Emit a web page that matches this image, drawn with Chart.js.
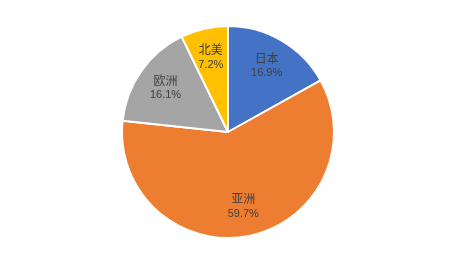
<!DOCTYPE html>
<html>
<head>
<meta charset="utf-8">
<script src="https://cdn.jsdelivr.net/npm/chart.js@4"></script>
<style>
  html, body { margin: 0; padding: 0; background: #fff; }
  #wrap { width: 458px; height: 268px; }
</style>
</head>
<body>
<div id="wrap"><canvas id="pie" width="458" height="268"></canvas></div>
<script>
const regions = ["日本", "亚洲", "欧洲", "北美"];
const shares = [16.9, 59.7, 16.1, 7.2];
const sliceColors = ["#4472C4", "#ED7D31", "#A5A5A5", "#FFC000"];

// labels drawn inside each slice, category above percentage
const sliceLabels = {
  id: "sliceLabels",
  afterDatasetsDraw(chart) {
    const ctx = chart.ctx;
    const meta = chart.getDatasetMeta(0);
    ctx.save();
    ctx.fillStyle = "#404040";
    ctx.textAlign = "center";
    ctx.textBaseline = "middle";
    meta.data.forEach((arc, i) => {
      const p = arc.getProps(["x", "y", "startAngle", "endAngle", "outerRadius"], true);
      const mid = (p.startAngle + p.endAngle) / 2;
      const r = p.outerRadius * 0.72;
      const x = p.x + Math.cos(mid) * r;
      const y = p.y + Math.sin(mid) * r;
      ctx.font = '12px "Noto Sans CJK SC", sans-serif';
      ctx.fillText(regions[i], x, y - 8);
      ctx.font = '11px "Liberation Sans", Arial, sans-serif';
      ctx.fillText(shares[i].toFixed(1) + "%", x, y + 7);
    });
    ctx.restore();
  },
};

const configPie = {
  type: "pie",
  data: {
    labels: regions,
    datasets: [
      {
        data: shares,
        backgroundColor: sliceColors,
        borderColor: "#ffffff",
        borderWidth: 2,
      },
    ],
  },
  options: {
    responsive: false,
    animation: false,
    layout: { padding: { top: 25, bottom: 29, left: 0, right: 2 } },
    plugins: {
      legend: { display: false },
      tooltip: { enabled: false },
    },
  },
  plugins: [sliceLabels],
};

const pie = new Chart(document.getElementById("pie"), configPie);
</script>
</body>
</html>
